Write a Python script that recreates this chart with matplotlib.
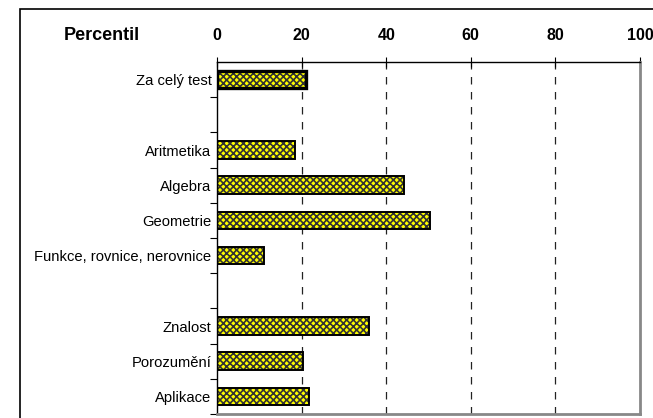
import matplotlib.pyplot as plt
from matplotlib.patches import Rectangle

plt.rcParams['font.family'] = ['Liberation Sans', 'DejaVu Sans']
plt.rcParams['hatch.linewidth'] = 1.2

# categories top -> bottom, '' = empty spacer row
labels = ['Za celý test', '', 'Aritmetika', 'Algebra', 'Geometrie',
          'Funkce, rovnice, nerovnice', '', 'Znalost', 'Porozumění', 'Aplikace']
values = [21, None, 18.5, 44.2, 50.3, 11, None, 36, 20.3, 21.7]
xticks = [0, 20, 40, 60, 80, 100]

fig = plt.figure(figsize=(6.53, 4.18), dpi=100)
ax = fig.add_axes([217/653, 1 - 414/418, (640-217)/653, (414-62)/418])

n = len(labels)
ypos = list(range(n))
for i, v in enumerate(values):
    if v is None:
        continue
    lw = 2.4 if i == 0 else 1.4
    ax.barh(i, v, height=0.5, color='#ffff00', edgecolor='#333333',
            hatch='xxxxx', linewidth=0, zorder=2)
    ax.barh(i, v, height=0.5, color='none', edgecolor='black',
            linewidth=lw, zorder=3)

ax.set_xlim(0, 100)
ax.set_ylim(n - 0.5, -0.5)
ax.xaxis.tick_top()
ax.set_xticks(xticks)
ax.set_xticklabels([str(t) for t in xticks], fontweight='bold', fontsize=11.5)
ax.tick_params(axis='x', direction='inout', length=7, width=0.8, pad=10)

ax.set_yticks(ypos)
ax.set_yticklabels(labels, fontsize=10.6)
ax.tick_params(axis='y', length=0, pad=4)
ax.set_yticks([i - 0.5 for i in range(1, n + 1)], minor=True)
ax.tick_params(axis='y', which='minor', length=5, width=0.8, direction='out')

for t in xticks[1:-1]:
    ax.axvline(t, color='#222222', linestyle=(0, (6, 6)), linewidth=0.9, zorder=1)

ax.spines['top'].set_linewidth(1.0)
ax.spines['left'].set_linewidth(1.0)
ax.spines['right'].set_color('#888888')
ax.spines['right'].set_linewidth(2)
ax.spines['bottom'].set_color('#888888')
ax.spines['bottom'].set_linewidth(2)

fig.text(102/653, 1 - 36/418, 'Percentil', fontweight='bold', fontsize=13,
         ha='center', va='center')

# outer chart frame
fig.patches.append(Rectangle((20/653, -0.1), 1.2, 1 - 9/418 + 0.1,
                             transform=fig.transFigure, fill=False,
                             edgecolor='black', linewidth=1.2))

fig.savefig('out.png', dpi=100)
